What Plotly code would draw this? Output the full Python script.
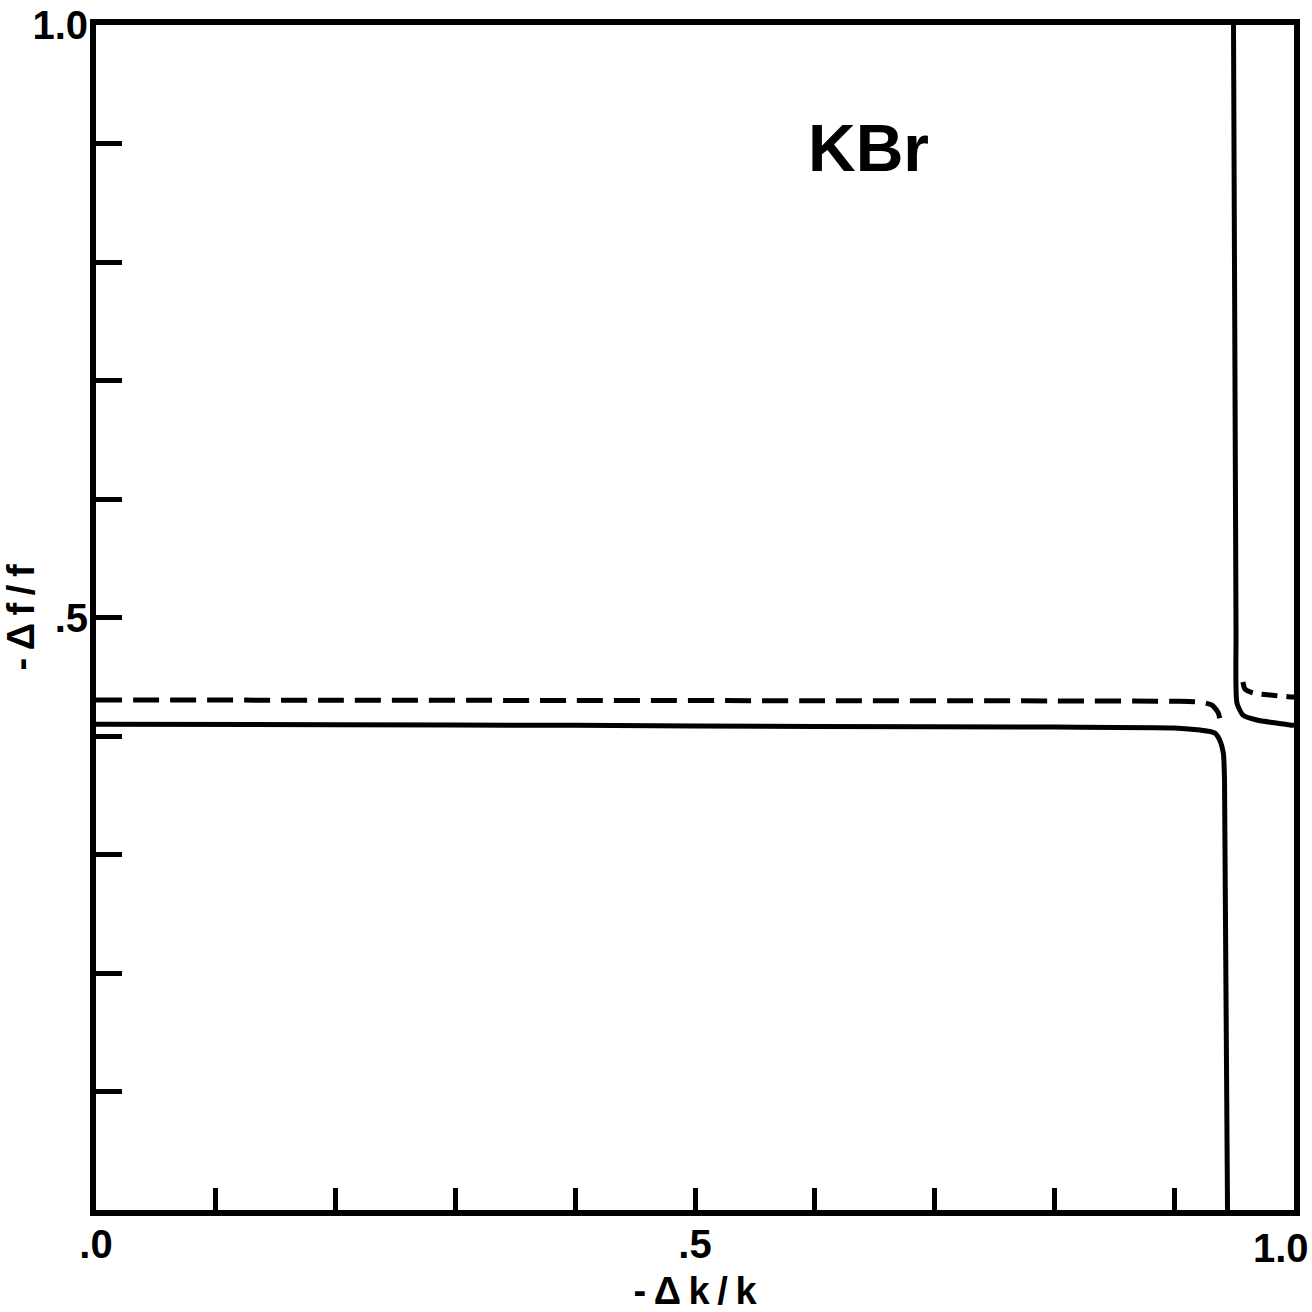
import plotly.graph_objects as go

# ---- data ----
solid_left_x = [0.0, 0.2, 0.4, 0.6, 0.8, 0.90, 0.9215, 0.934, 0.938, 0.941, 0.942, 0.9445]
solid_left_y = [0.410, 0.4095, 0.409, 0.408, 0.4075, 0.4068, 0.405, 0.4025, 0.3966, 0.3857, 0.363, 0.0]

dash_left_x = [0.0, 0.2, 0.4, 0.6, 0.8, 0.90, 0.9215, 0.9316, 0.9366, 0.938]
dash_left_y = [0.4304, 0.4302, 0.430, 0.4298, 0.4296, 0.4293, 0.4287, 0.426, 0.420, 0.415]

solid_right_x = [0.9495, 0.9516, 0.9524, 0.9574, 0.969, 0.985, 0.9967, 1.0]
solid_right_y = [1.0, 0.4895, 0.4278, 0.4177, 0.4135, 0.411, 0.4093, 0.409]

dash_right_x = [0.9574, 0.959, 0.9658, 0.98, 0.9967, 1.0]
dash_right_y = [0.4456, 0.4397, 0.4363, 0.4346, 0.433, 0.433]

tick_vals = [0.0, 0.1, 0.2, 0.3, 0.4, 0.5, 0.6, 0.7, 0.8, 0.9, 1.0]
x_tick_text = [".0", "", "", "", "", ".5", "", "", "", "", ""]
x_last_tick_val = 1.0
x_last_tick_text = "1.0"
y_tick_text = ["", "", "", "", "", ".5", "", "", "", "", "1.0"]

label_text = "KBr"
x_title = "-\u2009Δ\u2009k\u2009/\u2009k"
y_title = "-\u2009Δ\u2009f\u2009/\u2009f"

FONT = "Liberation Sans"
LW = 5

fig = go.Figure()
fig.add_trace(go.Scatter(x=solid_left_x, y=solid_left_y, mode="lines",
                         line=dict(color="black", width=LW, shape="spline", smoothing=0.6)))
fig.add_trace(go.Scatter(x=dash_left_x, y=dash_left_y, mode="lines",
                         line=dict(color="black", width=LW, dash="26px,11px", shape="spline", smoothing=0.6)))
fig.add_trace(go.Scatter(x=solid_right_x, y=solid_right_y, mode="lines",
                         line=dict(color="black", width=LW, shape="spline", smoothing=0.6)))
fig.add_trace(go.Scatter(x=dash_right_x, y=dash_right_y, mode="lines",
                         line=dict(color="black", width=LW, dash="16px,9px", shape="spline", smoothing=0.6)))

fig.add_annotation(x=0.645, y=0.896, xref="paper", yref="paper", text=label_text,
                   xanchor="center", yanchor="middle", showarrow=False,
                   font=dict(family=FONT, size=66, color="black", weight="bold"))

# last x tick label, nudged left so it stays inside the page (as in the reference)
fig.add_annotation(x=x_last_tick_val, y=0, xref="x", yref="paper", text=x_last_tick_text,
                   xanchor="right", yanchor="top", xshift=17, yshift=-14, showarrow=False,
                   font=dict(family=FONT, size=40, color="black", weight="bold"))

axis_common = dict(
    range=[0, 1], tickvals=tick_vals, ticks="inside", tickwidth=5, tickcolor="black",
    showline=True, linecolor="black", linewidth=6, mirror=True, showgrid=False,
    zeroline=False, automargin=False, ticklabeloverflow="allow",
    tickfont=dict(family=FONT, size=40, color="black", weight="bold"),
)

fig.update_xaxes(**axis_common, ticktext=x_tick_text, ticklen=22, ticklabelstandoff=-6,
                 title=dict(text=x_title, font=dict(family=FONT, size=38, color="black", weight="bold"),
                            standoff=20))
fig.update_yaxes(**axis_common, ticktext=y_tick_text, ticklen=26, ticklabelstandoff=-6,
                 title=dict(text=y_title, font=dict(family=FONT, size=38, color="black", weight="bold"),
                            standoff=0))

fig.update_layout(
    width=1312, height=1312,
    margin=dict(l=96, r=18, t=25, b=102),
    paper_bgcolor="white", plot_bgcolor="white",
    showlegend=False,
)

fig.write_html("out.html")
